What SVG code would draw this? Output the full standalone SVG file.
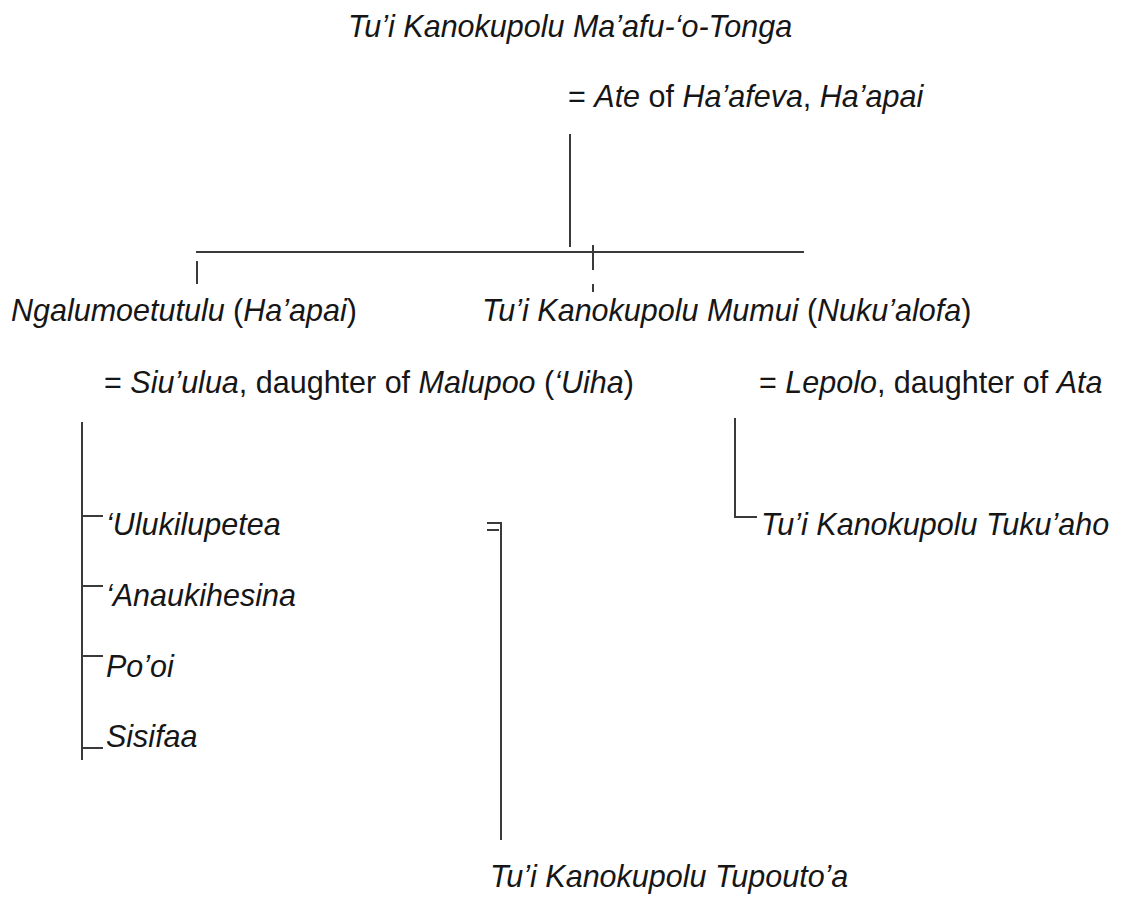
<svg xmlns="http://www.w3.org/2000/svg" width="1131" height="903" viewBox="0 0 1131 903">
  <style>
    text { font-family: "Liberation Sans", Arial, sans-serif; font-size: 30.5px; fill: #161616; }
    .i { font-style: italic; }
    .r { font-style: normal; }
    .ln { stroke: #3a3a3a; stroke-width: 2; fill: none; }
  </style>
  <rect width="1131" height="903" fill="#ffffff"/>

  <!-- descent lines -->
  <g id="connectors">
    <line class="ln" x1="570" y1="134" x2="570" y2="247"/>
    <line class="ln" x1="196" y1="252" x2="804" y2="252"/>
    <line class="ln" x1="197" y1="261" x2="197" y2="284"/>
    <line class="ln" x1="593" y1="245" x2="593" y2="270"/>
    <line class="ln" x1="593" y1="284" x2="593" y2="292" stroke-width="1.5"/>

    <line class="ln" x1="82" y1="422" x2="82" y2="760"/>
    <line class="ln" x1="82" y1="516" x2="103" y2="516"/>
    <line class="ln" x1="82" y1="586" x2="103" y2="586"/>
    <line class="ln" x1="82" y1="656" x2="103" y2="656"/>
    <line class="ln" x1="82" y1="748" x2="103" y2="748"/>

    <line class="ln" x1="487" y1="523" x2="501" y2="523"/>
    <line class="ln" x1="487" y1="530" x2="499" y2="530"/>
    <line class="ln" x1="501" y1="522" x2="501" y2="840"/>

    <line class="ln" x1="735" y1="418" x2="735" y2="518"/>
    <line class="ln" x1="735" y1="517" x2="757" y2="517"/>
  </g>

  <g id="mafu">
    <text class="i" x="348" y="37">Tu’i Kanokupolu Ma’afu-‘o-Tonga</text>
  </g>
  <g id="ate">
    <text x="568" y="107"><tspan class="r">= </tspan><tspan class="i">Ate</tspan><tspan class="r"> of </tspan><tspan class="i">Ha’afeva</tspan><tspan class="r">, </tspan><tspan class="i">Ha’apai</tspan></text>
  </g>

  <g id="ngalumoetutulu">
    <text x="11" y="321"><tspan class="i">Ngalumoetutulu</tspan><tspan class="r"> (</tspan><tspan class="i">Ha’apai</tspan><tspan class="r">)</tspan></text>
  </g>
  <g id="mumui">
    <text x="482" y="321"><tspan class="i">Tu’i Kanokupolu Mumui</tspan><tspan class="r"> (</tspan><tspan class="i">Nuku’alofa</tspan><tspan class="r">)</tspan></text>
  </g>

  <g id="siuulua">
    <text x="104" y="393"><tspan class="r">= </tspan><tspan class="i">Siu’ulua</tspan><tspan class="r">, daughter of </tspan><tspan class="i">Malupoo</tspan><tspan class="r"> (</tspan><tspan class="i">‘Uiha</tspan><tspan class="r">)</tspan></text>
  </g>
  <g id="lepolo">
    <text x="759" y="393"><tspan class="r">= </tspan><tspan class="i">Lepolo</tspan><tspan class="r">, daughter of </tspan><tspan class="i">Ata</tspan></text>
  </g>

  <g id="ulukilupetea"><text class="i" x="106" y="535">‘Ulukilupetea</text></g>
  <g id="anaukihesina"><text class="i" x="106" y="606">‘Anaukihesina</text></g>
  <g id="pooi"><text class="i" x="106" y="677">Po’oi</text></g>
  <g id="sisifaa"><text class="i" x="106" y="747">Sisifaa</text></g>

  <g id="tukuaho"><text class="i" x="761" y="535">Tu’i Kanokupolu Tuku’aho</text></g>

  <g id="tupoutoa"><text class="i" x="490" y="887">Tu’i Kanokupolu Tupouto’a</text></g>
</svg>
